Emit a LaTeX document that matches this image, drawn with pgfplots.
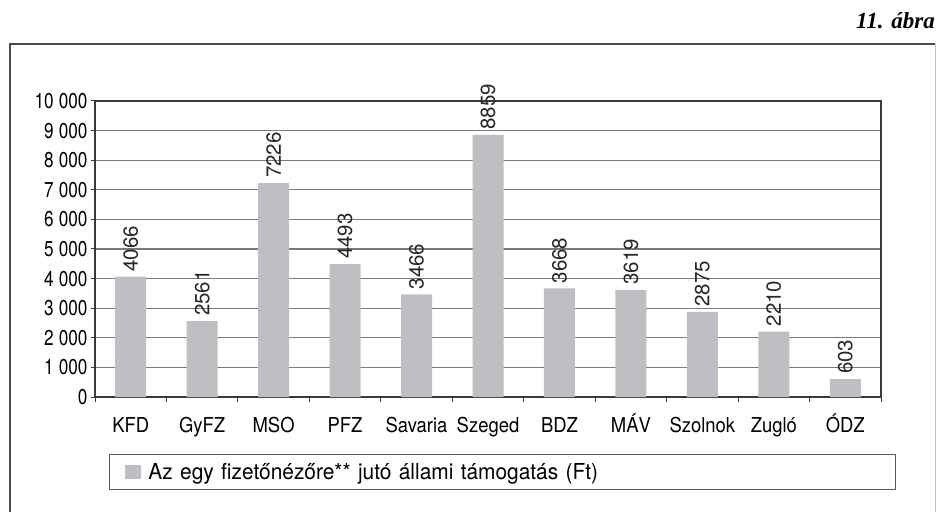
\documentclass[border=0pt]{standalone}
\usepackage{pgfplots}
\pgfplotsset{compat=1.18}
\usepackage{fontspec}
\setmainfont{TeX Gyre Heros}
\newfontfamily\cnfont{TeX Gyre Heros}[FakeStretch=0.8]
\newfontfamily\lblfont{TeX Gyre Heros}[FakeStretch=0.9]
\newfontfamily\legfont{TeX Gyre Heros}[FakeStretch=0.95]
\newfontfamily\titlefont{Liberation Serif}
\definecolor{barfill}{HTML}{BEBFC2}
\definecolor{gridc}{HTML}{7A7A7A}
\definecolor{axisc}{HTML}{3A3A3A}
\begin{document}
\begin{tikzpicture}[x=1pt,y=1pt]
\useasboundingbox (0,0) rectangle (936,511);
\draw[line width=1.6pt, color=black!70] (10,-5) -- (10,467) -- (935,467);
\draw[line width=1pt, color=black!25] (935,467) -- (935,-5);
\node[anchor=base east, inner sep=0pt, font=\titlefont\bfseries\itshape\fontsize{23}{27}\selectfont] at (935,482) {11. ábra};
\begin{axis}[
  at={(95pt,114pt)}, anchor=south west,
  width=786pt, height=296pt, scale only axis,
  xmin=-0.5, xmax=10.5, ymin=0, ymax=10000,
  scaled y ticks=false,
  xtick={0,...,10},
  xticklabels={KFD,GyFZ,MSO,PFZ,Savaria,Szeged,BDZ,MÁV,Szolnok,Zugló,ÓDZ},
  minor xtick={-0.5,0.5,...,10.5},
  major x tick style={draw=none},
  minor tick length=5pt,
  major tick length=4pt,
  tick align=outside,
  tick pos=left,
  tick style={color=axisc, line width=1pt},
  ytick={0,1000,...,10000},
  ymajorgrids,
  grid style={color=gridc, line width=1.2pt},
  axis line style={color=axisc, line width=1.2pt},
  /pgf/number format/assume math mode=true,
  /pgf/number format/1000 sep={\hspace{5pt}},
  yticklabel style={font=\cnfont\fontsize{21.5}{25}\selectfont},
  xticklabel style={font=\lblfont\fontsize{20.5}{24}\selectfont, anchor=base, yshift=-31pt},
  ybar, bar width=31pt,
  nodes near coords={\pgfmathprintnumber[1000 sep={}]{\pgfplotspointmeta}},
  nodes near coords style={rotate=90, anchor=west, inner xsep=5pt, inner ysep=0pt, font=\fontsize{20.5}{24}\selectfont, color=black!85},
  legend style={at={(axis description cs:0.0178,-0.1926)}, anchor=north west,
    draw=black!65, line width=1pt, inner xsep=16pt, inner ysep=1.5pt,
    nodes={text width=724pt, align=left, inner xsep=7pt, inner ysep=7pt, font=\legfont\fontsize{22}{25}\selectfont}},
  legend image code/.code={\fill[barfill] (0pt,-7pt) rectangle (16pt,7pt);},
]
\addplot[fill=barfill, draw=none] coordinates {
(0,4066) (1,2561) (2,7226) (3,4493) (4,3466) (5,8859) (6,3668) (7,3619) (8,2875) (9,2210) (10,603)};
\addlegendentry{Az egy fizetőnézőre** jutó állami támogatás (Ft)}
\end{axis}
\end{tikzpicture}
\end{document}
